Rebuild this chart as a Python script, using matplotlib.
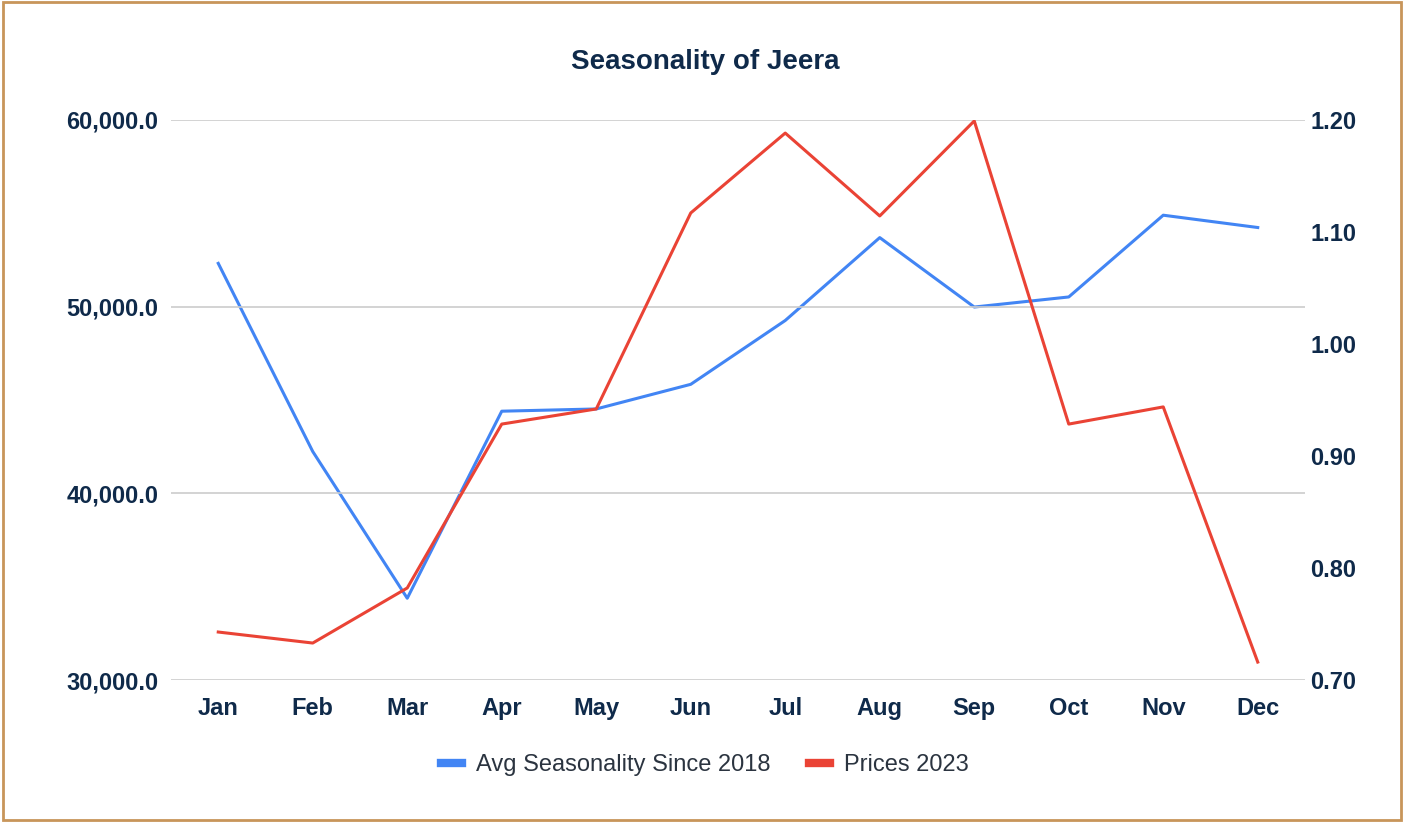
import matplotlib.pyplot as plt
from matplotlib.patches import Rectangle
from matplotlib.lines import Line2D
from matplotlib.ticker import FuncFormatter, MultipleLocator

months = ['Jan', 'Feb', 'Mar', 'Apr', 'May', 'Jun', 'Jul', 'Aug', 'Sep', 'Oct', 'Nov', 'Dec']
# seasonality index (right axis)
seasonality = [1.072, 0.904, 0.773, 0.940, 0.942, 0.964, 1.021, 1.095, 1.033, 1.042, 1.115, 1.104]
# prices 2023 (left axis)
prices = [32570, 31980, 34930, 43710, 44520, 55020, 59300, 54860, 59950, 43710, 44630, 30960]

plt.rcParams['font.family'] = ['Liberation Sans', 'DejaVu Sans']
navy = '#0f2a4a'
blue = '#4285f4'
red = '#ea4335'

fig = plt.figure(figsize=(14.04, 8.22), dpi=100)
fig.patches.append(Rectangle((0.002, 0.003), 0.996, 0.994, transform=fig.transFigure,
                             fill=False, edgecolor='#c8955a', linewidth=2))

ax = fig.add_axes([171 / 1404, 1 - 680 / 822, 1134 / 1404, 560 / 822])
ax2 = ax.twinx()

x = list(range(len(months)))
ax.plot(x, prices, color=red, linewidth=2.2, zorder=3)
ax2.plot(x, seasonality, color=blue, linewidth=2.2, zorder=2)
ax.set_zorder(ax2.get_zorder() + 1)
ax.patch.set_visible(False)

ax.set_xlim(-0.5, 11.5)
ax.set_ylim(30000, 60000)
ax2.set_ylim(0.70, 1.20)
ax.yaxis.set_major_locator(MultipleLocator(10000))
ax2.yaxis.set_major_locator(MultipleLocator(0.1))
ax.yaxis.set_major_formatter(FuncFormatter(lambda v, p: f'{v:,.1f}'))
ax2.yaxis.set_major_formatter(FuncFormatter(lambda v, p: f'{v:.2f}'))

ax.set_xticks(x)
ax.set_xticklabels(months)
ax.grid(axis='y', color='#cccccc', linewidth=1.2)
ax.set_axisbelow(True)

for a in (ax, ax2):
    for s in a.spines.values():
        s.set_visible(False)
    a.tick_params(length=0, labelsize=17, labelcolor=navy)
    for lab in a.get_xticklabels() + a.get_yticklabels():
        lab.set_fontweight('bold')
ax.tick_params(axis='y', pad=9)
ax2.tick_params(axis='y', pad=4)
ax.tick_params(axis='x', pad=12)

fig.text(705 / 1404, 1 - 62 / 822, 'Seasonality of Jeera', ha='center', va='center',
         fontsize=20, fontweight='bold', color=navy)

handles = [Line2D([], [], color=blue, linewidth=6),
           Line2D([], [], color=red, linewidth=6)]
fig.legend(handles, ['Avg Seasonality Since 2018', 'Prices 2023'], loc='center',
           bbox_to_anchor=(705 / 1404, 1 - 765 / 822), ncol=2, frameon=False,
           fontsize=17, handlelength=0.9, handletextpad=0.6, columnspacing=1.6,
           labelcolor='#2b3440')

fig.savefig('out.png', dpi=100)
